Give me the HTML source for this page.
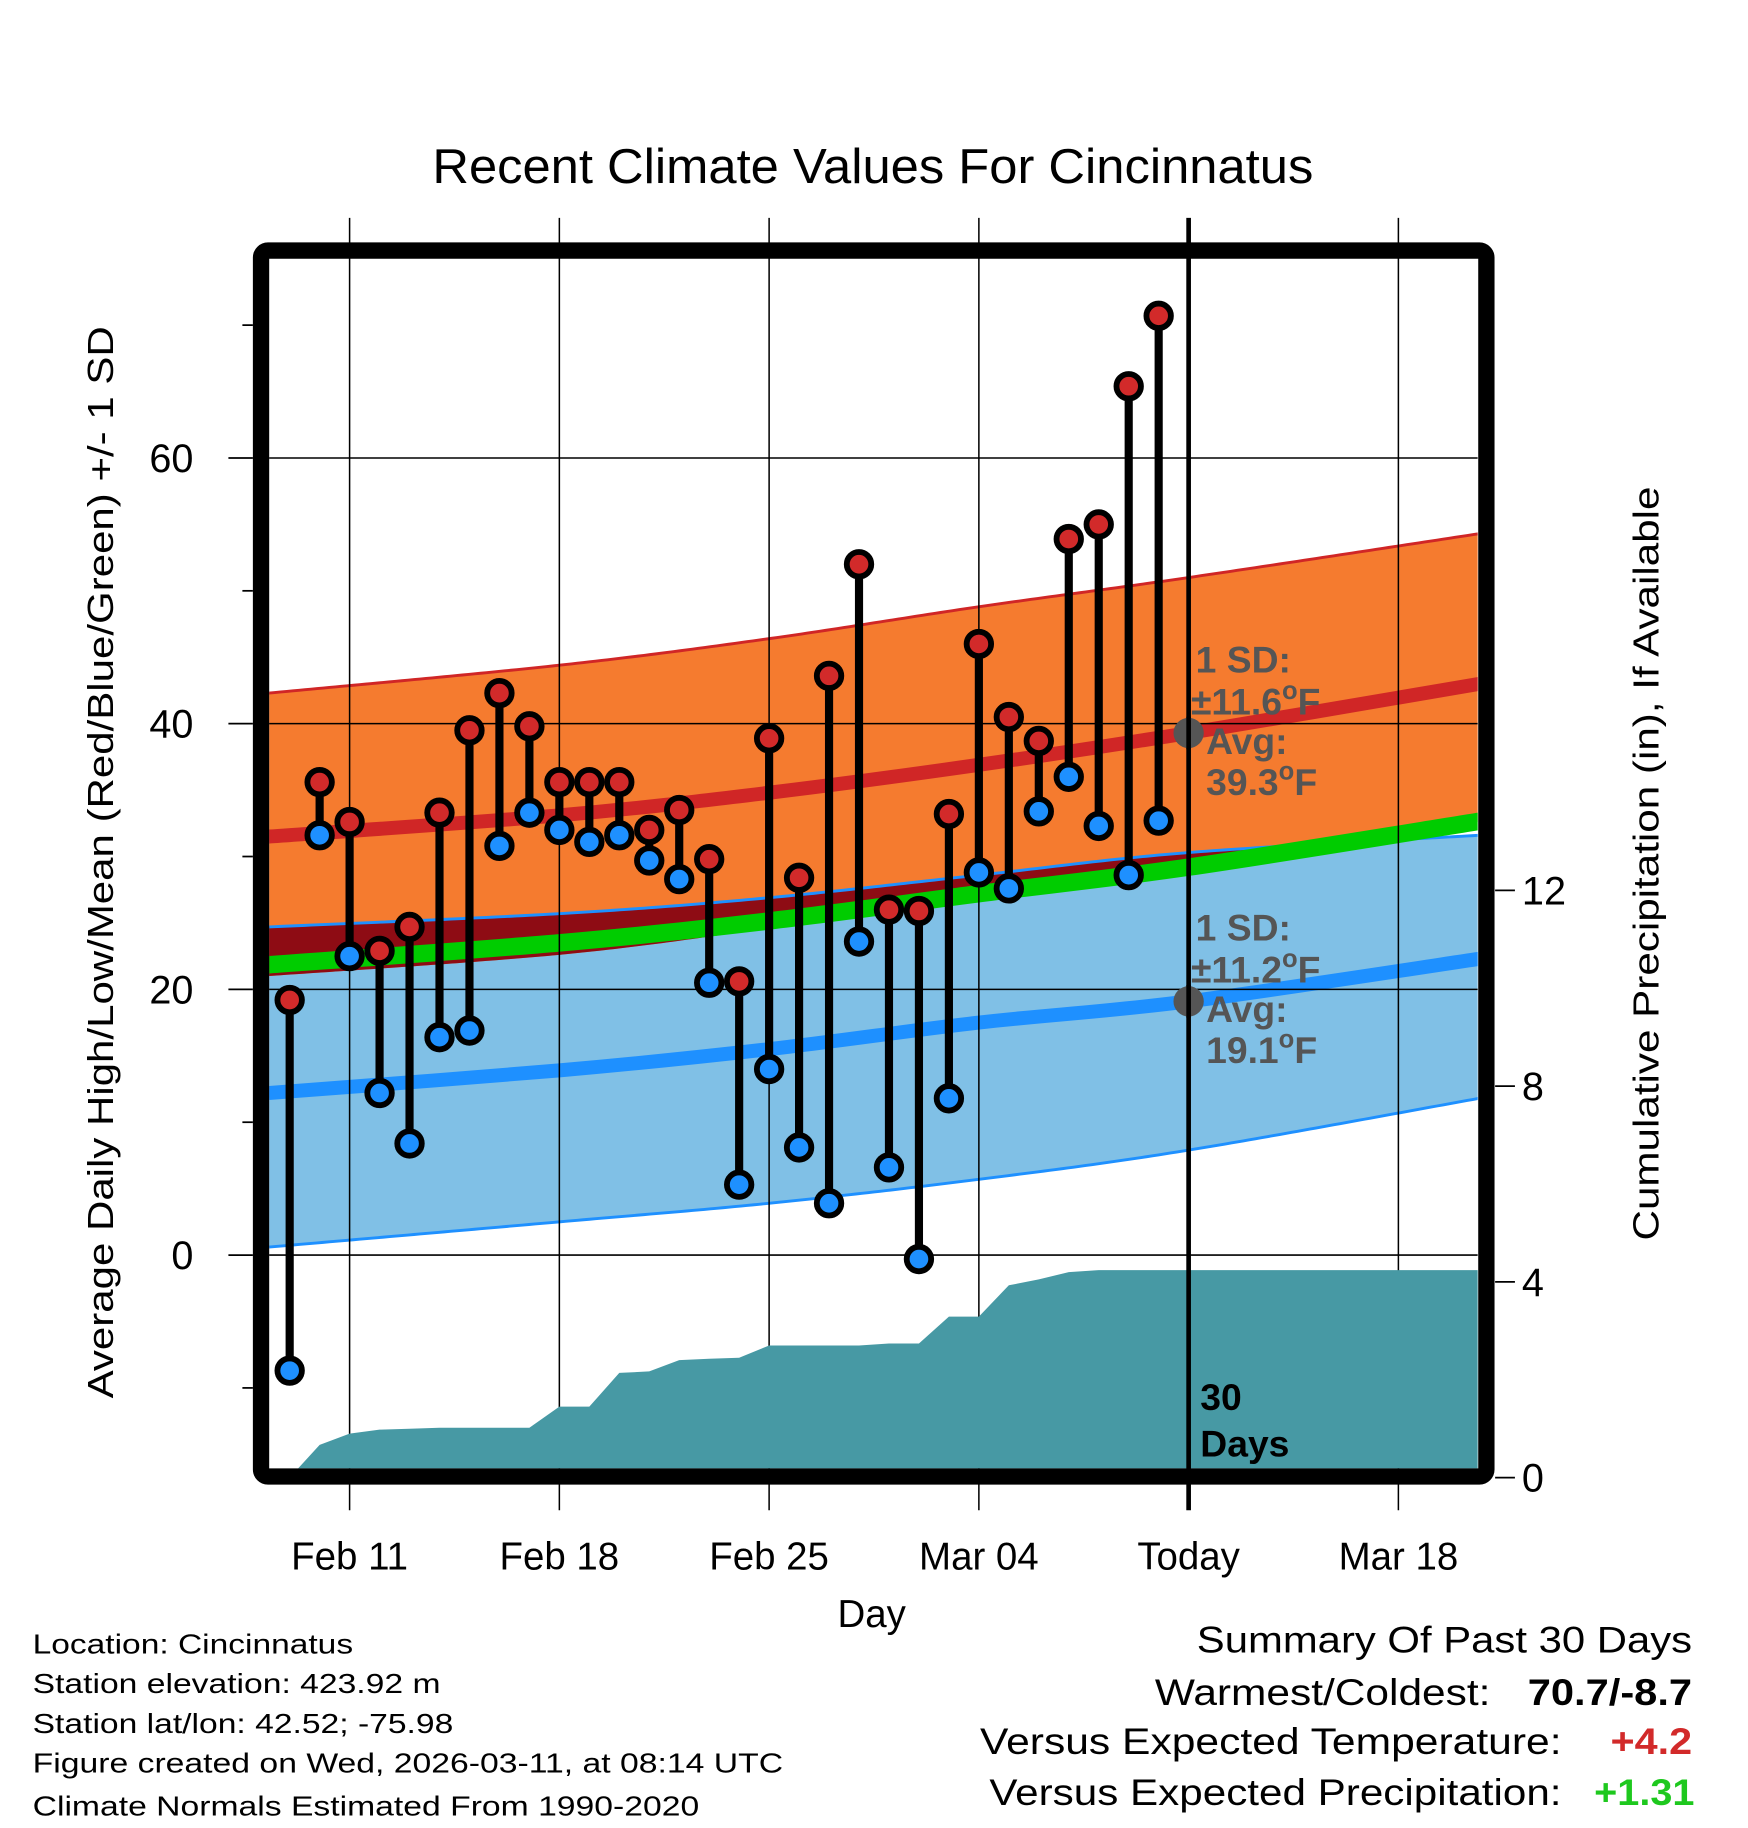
<!DOCTYPE html>
<html><head><meta charset="utf-8"><style>
html,body{margin:0;padding:0;background:#fff}
svg{display:block}
text{font-family:"Liberation Sans",Arial,sans-serif}
</style></head><body>
<svg id="chart" xmlns="http://www.w3.org/2000/svg" width="1748" height="1828" viewBox="0 0 1500 1568.65">
<defs><clipPath id="plotclip"><rect x="231" y="222" width="1037" height="1038"/></clipPath></defs>
<g id="bands" clip-path="url(#plotclip)"></g>
<g id="grid"></g>
<g id="precip" clip-path="url(#plotclip)"></g>
<g id="today"></g>
<g id="marks"></g>
<g id="annot"></g>
<rect x="224" y="215" width="1051.5" height="1052" rx="6" fill="none" stroke="#000" stroke-width="14"/>
<g id="axes"></g>
<text x="749" y="157" font-size="42" text-anchor="middle" textLength="756" lengthAdjust="spacingAndGlyphs">Recent Climate Values For Cincinnatus</text>
<text x="748" y="1396" font-size="33" text-anchor="middle">Day</text>
<text transform="translate(97,740) rotate(-90)" font-size="31" text-anchor="middle" textLength="920" lengthAdjust="spacingAndGlyphs">Average Daily High/Low/Mean (Red/Blue/Green) +/- 1 SD</text>
<text transform="translate(1423,741) rotate(-90)" font-size="31" text-anchor="middle" textLength="647" lengthAdjust="spacingAndGlyphs">Cumulative Precipitation (in), If Available</text>
<g font-size="24">
<text x="28" y="1419" textLength="275" lengthAdjust="spacingAndGlyphs">Location: Cincinnatus</text>
<text x="28" y="1453" textLength="350" lengthAdjust="spacingAndGlyphs">Station elevation: 423.92 m</text>
<text x="28" y="1487" textLength="361" lengthAdjust="spacingAndGlyphs">Station lat/lon: 42.52; -75.98</text>
<text x="28" y="1521" textLength="644" lengthAdjust="spacingAndGlyphs">Figure created on Wed, 2026-03-11, at 08:14 UTC</text>
<text x="28" y="1558" textLength="572" lengthAdjust="spacingAndGlyphs">Climate Normals Estimated From 1990-2020</text>
</g>
<g font-size="32">
<text x="1027" y="1418" textLength="425" lengthAdjust="spacingAndGlyphs">Summary Of Past 30 Days</text>
<text x="991" y="1463" textLength="288" lengthAdjust="spacingAndGlyphs">Warmest/Coldest:</text>
<text x="1311" y="1463" font-weight="bold" textLength="141" lengthAdjust="spacingAndGlyphs">70.7/-8.7</text>
<text x="841" y="1505" textLength="499" lengthAdjust="spacingAndGlyphs">Versus Expected Temperature:</text>
<text x="1382" y="1505" font-weight="bold" fill="#d22a2a" textLength="70" lengthAdjust="spacingAndGlyphs">+4.2</text>
<text x="849" y="1549" textLength="491" lengthAdjust="spacingAndGlyphs">Versus Expected Precipitation:</text>
<text x="1368" y="1549" font-weight="bold" fill="#1ec81e" textLength="86" lengthAdjust="spacingAndGlyphs">+1.31</text>
</g>
</svg>
<script>
// ---- data ----
const xTickLabels = ["Feb 11","Feb 18","Feb 25","Mar 04","Today","Mar 18"];
const xTickDays = [0,7,14,21,28,35];
const yTicks = [0,20,40,60];
const yMinorTicks = [-10,10,30,50,70];
const y2Ticks = [0,4,8,12];
const obsDays = [-2,-1,0,1,2,3,4,5,6,7,8,9,10,11,12,13,14,15,16,17,18,19,20,21,22,23,24,25,26,27];
const highs = [19.2,35.6,32.6,22.9,24.7,33.3,39.5,42.3,39.8,35.6,35.6,35.6,32.0,33.5,29.8,20.6,38.9,28.4,43.6,52.0,26.0,25.9,33.2,46.0,40.5,38.7,53.9,55.0,65.4,70.7];
const lows  = [-8.7,31.6,22.5,12.2,8.4,16.4,16.9,30.8,33.3,32.0,31.1,31.6,29.7,28.3,20.5,5.3,14.0,8.1,3.9,23.6,6.6,-0.3,11.8,28.8,27.6,33.4,36.0,32.3,28.6,32.7];
const precip = [0,0.67,0.9,0.98,1.0,1.02,1.02,1.02,1.02,1.45,1.45,2.14,2.17,2.4,2.43,2.45,2.7,2.7,2.7,2.7,2.74,2.74,3.29,3.29,3.93,4.05,4.2,4.24,4.24,4.24];
const normDays = [-2.7,7,14,21,28,37.7];
const hiMean  = [31.5,33.1,34.8,36.9,39.3,43.0];
const hiUpper = [42.3,44.4,46.4,48.8,51.0,54.3];
const hiLower = [21.0,22.6,24.6,26.9,29.6,32.6];
const loMean  = [12.2,13.9,15.5,17.5,19.1,22.3];
const loUpper = [24.7,25.7,26.9,28.6,30.3,31.6];
const loLower = [0.6,2.5,3.9,5.7,7.9,11.8];

// ---- scales ----
const X = d => 300 + d*25.714;
const Y = t => 1077 - t*11.4;
const YP = p => 1268 - p*42;
const NS='http://www.w3.org/2000/svg';
function mk(tag, attrs, parent){const e=document.createElementNS(NS,tag);for(const k in attrs)e.setAttribute(k,attrs[k]);parent.appendChild(e);return e;}
function catmull(pts){let d=`M${pts[0][0]},${pts[0][1]}`;for(let i=0;i<pts.length-1;i++){const p0=pts[Math.max(0,i-1)],p1=pts[i],p2=pts[i+1],p3=pts[Math.min(pts.length-1,i+2)];d+=` C${p1[0]+(p2[0]-p0[0])/6},${p1[1]+(p2[1]-p0[1])/6} ${p2[0]-(p3[0]-p1[0])/6},${p2[1]-(p3[1]-p1[1])/6} ${p2[0]},${p2[1]}`;}return d;}
function series(vals){return normDays.map((d,i)=>[X(d),Y(vals[i])]);}
function curvePts(vals){
  const tmp=mk('path',{d:catmull(series(vals))},document.getElementById('bands'));
  const L=tmp.getTotalLength();const out=[];for(let i=0;i<=200;i++){const p=tmp.getPointAtLength(L*i/200);out.push([p.x,p.y]);}
  tmp.remove();return out;}
// resample at common x positions
function atX(pts,xs){return xs.map(x=>{for(let i=0;i<pts.length-1;i++){if(pts[i+1][0]>=x){const t=(x-pts[i][0])/((pts[i+1][0]-pts[i][0])||1);return [x,pts[i][1]+t*(pts[i+1][1]-pts[i][1])];}}return [x,pts[pts.length-1][1]];});}
const xs=[];for(let i=0;i<=200;i++)xs.push(X(normDays[0])+(X(normDays[normDays.length-1])-X(normDays[0]))*i/200);
const hiUp=atX(curvePts(hiUpper),xs);
const hiLo=atX(curvePts(hiLower),xs);
const loUp=atX(curvePts(loUpper),xs);
const loLo=atX(curvePts(loLower),xs);
const pl=a=>a.map(p=>p.join(',')).join(' ');
const bands=document.getElementById('bands');
let e;
e=mk('polygon',{points:pl(loUp)+' '+pl(loLo.slice().reverse()),fill:'#80c0e6'},bands);

e=mk('polygon',{points:pl(hiUp)+' '+pl(hiLo.slice().reverse()),fill:'#f57b2f'},bands);

const ov=loUp.map((p,i)=>[p[0],Math.max(p[1],hiLo[i][1])]);
e=mk('polygon',{points:pl(loUp)+' '+pl(ov.slice().reverse()),fill:'#8e0c14'},bands);

e=mk('polyline',{points:pl(loUp),fill:'none',stroke:'#1e90ff','stroke-width':2.5},bands);

e=mk('path',{d:catmull(series(hiMean)),fill:'none',stroke:'#d02626','stroke-width':12},bands);

e=mk('path',{d:catmull(series(loMean)),fill:'none',stroke:'#1e90ff','stroke-width':12},bands);

e=mk('path',{d:catmull(series(hiMean.map((m,i)=>(m+loMean[i])/2))),fill:'none',stroke:'#00cc00','stroke-width':15},bands);

e=mk('polyline',{points:pl(hiUp),fill:'none',stroke:'#d02626','stroke-width':2.5},bands);

e=mk('polyline',{points:pl(loLo),fill:'none',stroke:'#1e90ff','stroke-width':2.5},bands);


// grid
const grid=document.getElementById('grid');
yTicks.forEach(t=>{e=mk('line',{x1:231,x2:1268,y1:Y(t),y2:Y(t),stroke:'#000','stroke-width':1.3},grid);
});
xTickDays.forEach((d,i)=>{if(xTickLabels[i]==='Today')return;e=mk('line',{x1:X(d),x2:X(d),y1:187,y2:1296,stroke:'#000','stroke-width':1.3},grid);
});

// precip
const pg=document.getElementById('precip');
const ppts=obsDays.map((d,i)=>[X(d),YP(precip[i])]);
ppts.push([1270,YP(precip[precip.length-1])]);
e=mk('polygon',{points:pl(ppts)+` 1270,1270 ${X(obsDays[0])},1270`,fill:'#4799a4'},pg);


// today line
const tg=document.getElementById('today');
e=mk('line',{x1:X(28),x2:X(28),y1:187,y2:1296,stroke:'#000','stroke-width':4},tg);

e=mk('text',{x:1030,y:1210,'font-size':32,'font-weight':'bold'},tg);e.textContent='30';

e=mk('text',{x:1030,y:1250,'font-size':32,'font-weight':'bold'},tg);e.textContent='Days';


// stems and markers
const mg=document.getElementById('marks');
obsDays.forEach((d,i)=>{e=mk('line',{x1:X(d),x2:X(d),y1:Y(highs[i]),y2:Y(lows[i]),stroke:'#000','stroke-width':7},mg);
});
obsDays.forEach((d,i)=>{
 e=mk('circle',{cx:X(d),cy:Y(highs[i]),r:10.5,fill:'#d22a2a',stroke:'#000','stroke-width':5},mg);
 
 e=mk('circle',{cx:X(d),cy:Y(lows[i]),r:10.5,fill:'#1e90ff',stroke:'#000','stroke-width':5},mg);
 
});

// annotations
const ag=document.getElementById('annot');
function annot(mean,sd,y0){
 e=mk('circle',{cx:X(28),cy:Y(mean),r:13,fill:'#555'},ag);
 
 mk('line',{x1:X(28),x2:X(28),y1:Y(mean)-14,y2:Y(mean)+14,stroke:'#000','stroke-width':4},ag);
 const lines=[[1026,y0,'1 SD:',82],[1022,y0+36,'\u00b1'+sd.toFixed(1),0],[1035,y0+70,'Avg:',0],[1035,y0+105,mean.toFixed(1),0]];
 lines.forEach((l,k)=>{e=mk('text',{x:l[0],y:l[1],'font-size':32,'font-weight':'bold',fill:'#555'},ag);
  
  e.textContent=l[2];
  if(k===1||k===3){const s=mk('tspan',{'font-size':22,dy:-13},e);s.textContent='o';const f=mk('tspan',{dy:13},e);f.textContent='F';}
 });
}
annot(39.3,11.6,577);
annot(19.1,11.2,807);

// axes
const ax=document.getElementById('axes');
yTicks.forEach(t=>{mk('line',{x1:196,x2:217,y1:Y(t),y2:Y(t),stroke:'#000','stroke-width':1.5},ax);
 e=mk('text',{x:166,y:Y(t)+12,'font-size':34,'text-anchor':'end'},ax);e.textContent=t;
 });
yMinorTicks.forEach(t=>{mk('line',{x1:208,x2:217,y1:Y(t),y2:Y(t),stroke:'#000','stroke-width':1.5},ax);});
y2Ticks.forEach(p=>{mk('line',{x1:1283,x2:1300,y1:YP(p),y2:YP(p),stroke:'#000','stroke-width':1.5},ax);
 e=mk('text',{x:1306,y:YP(p)+12,'font-size':34},ax);e.textContent=p;
 });
xTickDays.forEach((d,i)=>{e=mk('text',{x:X(d),y:1347,'font-size':33,'text-anchor':'middle'},ax);e.textContent=xTickLabels[i];
 });
</script>
</body></html>
